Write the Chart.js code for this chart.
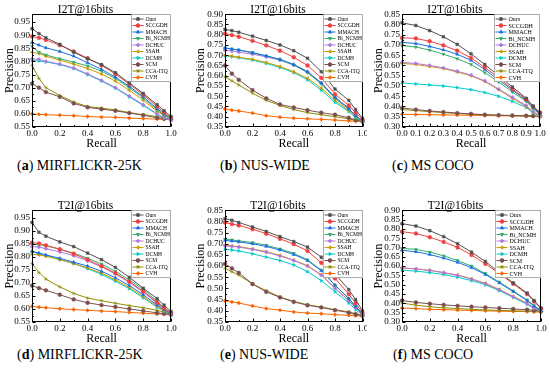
<!DOCTYPE html>
<html>
<head>
<meta charset="utf-8">
<script src="https://cdn.jsdelivr.net/npm/chart.js@4.4.0/dist/chart.umd.min.js"></script>
<style>
  body { margin: 0; background: #fff; width: 550px; height: 375px; position: relative; overflow: hidden; }
  .panel { position: absolute; }
  .panel canvas { display: block; }
  .cap { position: absolute; font-family: "Liberation Serif", "Times New Roman", serif; font-size: 14px; line-height: 16px; white-space: nowrap; color: #000; }
</style>
</head>
<body>
<div class="panel" id="wrap-a"><canvas id="chart-a"></canvas></div>
<div class="panel" id="wrap-b"><canvas id="chart-b"></canvas></div>
<div class="panel" id="wrap-c"><canvas id="chart-c"></canvas></div>
<div class="panel" id="wrap-d"><canvas id="chart-d"></canvas></div>
<div class="panel" id="wrap-e"><canvas id="chart-e"></canvas></div>
<div class="panel" id="wrap-f"><canvas id="chart-f"></canvas></div>

<div class="cap" style="left:17px;top:158px">(<b>a</b>) MIRFLICKR-25K</div>
<div class="cap" style="left:220px;top:158px">(<b>b</b>) NUS-WIDE</div>
<div class="cap" style="left:392px;top:158px">(<b>c</b>) MS COCO</div>
<div class="cap" style="left:17px;top:347px">(<b>d</b>) MIRFLICKR-25K</div>
<div class="cap" style="left:220px;top:347px">(<b>e</b>) NUS-WIDE</div>
<div class="cap" style="left:393px;top:347px">(<b>f</b>) MS COCO</div>

<script>
// ===== DATA =====
const methods = ['Ours', 'SCCGDH', 'MMACH', 'Bi_NCMH', 'DCHUC', 'SSAH', 'DCMH', 'SCM', 'CCA-ITQ', 'CVH'];

// recall sample points
const recallFine = [0, 0.05, 0.1, 0.2, 0.3, 0.4, 0.5, 0.6, 0.7, 0.8, 0.9, 0.95, 1.0];
const recallCoco = [0, 0.1, 0.2, 0.3, 0.4, 0.5, 0.6, 0.7, 0.8, 0.9, 0.95, 1.0];

// tick labels
const xTicksFifth = [0, 0.2, 0.4, 0.6, 0.8, 1.0];
const xTicksTenth = [0, 0.1, 0.2, 0.3, 0.4, 0.5, 0.6, 0.7, 0.8, 0.9, 1.0];
const yTicksMir = [0.55, 0.60, 0.65, 0.70, 0.75, 0.80, 0.85, 0.90, 0.95];
const yTicksNusI2T = [0.35, 0.40, 0.45, 0.50, 0.55, 0.60, 0.65, 0.70, 0.75, 0.80, 0.85, 0.90];
const yTicksNusT2I = [0.35, 0.40, 0.45, 0.50, 0.55, 0.60, 0.65, 0.70, 0.75, 0.80, 0.85];
const yTicksCocoI2T = [0.30, 0.35, 0.40, 0.45, 0.50, 0.55, 0.60, 0.65, 0.70, 0.75, 0.80, 0.85];
const yTicksCocoT2I = [0.30, 0.35, 0.40, 0.45, 0.50, 0.55, 0.60, 0.65, 0.70, 0.75, 0.80, 0.85, 0.90];

// (a) I2T@16bits, MIRFLICKR-25K
const a_Ours    = [0.925, 0.906, 0.890, 0.865, 0.835, 0.810, 0.788, 0.757, 0.718, 0.678, 0.635, 0.612, 0.590];
const a_SCCGDH  = [0.895, 0.890, 0.882, 0.862, 0.838, 0.812, 0.785, 0.752, 0.713, 0.673, 0.628, 0.605, 0.585];
const a_MMACH   = [0.872, 0.862, 0.852, 0.838, 0.820, 0.795, 0.770, 0.740, 0.705, 0.665, 0.620, 0.600, 0.582];
const a_BiNCMH  = [0.858, 0.835, 0.825, 0.810, 0.797, 0.783, 0.763, 0.735, 0.700, 0.660, 0.615, 0.595, 0.580];
const a_DCHUC   = [0.810, 0.808, 0.800, 0.790, 0.775, 0.752, 0.728, 0.700, 0.668, 0.635, 0.600, 0.585, 0.575];
const a_SSAH    = [0.835, 0.830, 0.820, 0.805, 0.790, 0.773, 0.752, 0.725, 0.690, 0.652, 0.610, 0.593, 0.580];
const a_DCMH    = [0.803, 0.802, 0.798, 0.788, 0.773, 0.750, 0.725, 0.698, 0.665, 0.632, 0.598, 0.585, 0.575];
const a_SCM     = [0.715, 0.700, 0.683, 0.665, 0.640, 0.625, 0.618, 0.612, 0.603, 0.595, 0.585, 0.582, 0.578];
const a_CCAITQ  = [0.785, 0.735, 0.700, 0.670, 0.645, 0.628, 0.622, 0.615, 0.605, 0.597, 0.590, 0.585, 0.578];
const a_CVH     = [0.600, 0.598, 0.597, 0.595, 0.593, 0.590, 0.588, 0.587, 0.584, 0.582, 0.580, 0.579, 0.578];

// (b) I2T@16bits, NUS-WIDE
const b_Ours    = [0.826, 0.820, 0.812, 0.793, 0.772, 0.750, 0.722, 0.685, 0.620, 0.535, 0.480, 0.435, 0.392];
const b_SCCGDH  = [0.805, 0.798, 0.790, 0.770, 0.748, 0.722, 0.690, 0.650, 0.590, 0.510, 0.455, 0.420, 0.385];
const b_MMACH   = [0.735, 0.730, 0.725, 0.712, 0.697, 0.680, 0.655, 0.620, 0.565, 0.495, 0.440, 0.405, 0.378];
const b_BiNCMH  = [0.735, 0.730, 0.726, 0.713, 0.696, 0.678, 0.652, 0.615, 0.560, 0.490, 0.437, 0.403, 0.378];
const b_DCHUC   = [0.725, 0.720, 0.715, 0.705, 0.692, 0.676, 0.652, 0.618, 0.565, 0.495, 0.440, 0.405, 0.378];
const b_SSAH    = [0.700, 0.696, 0.690, 0.680, 0.665, 0.645, 0.620, 0.588, 0.540, 0.480, 0.430, 0.400, 0.375];
const b_DCMH    = [0.697, 0.693, 0.688, 0.676, 0.660, 0.640, 0.615, 0.580, 0.530, 0.470, 0.425, 0.395, 0.375];
const b_SCM     = [0.650, 0.610, 0.580, 0.530, 0.490, 0.460, 0.445, 0.432, 0.420, 0.410, 0.395, 0.385, 0.378];
const b_CCAITQ  = [0.595, 0.575, 0.555, 0.515, 0.480, 0.455, 0.435, 0.420, 0.410, 0.400, 0.390, 0.382, 0.375];
const b_CVH     = [0.438, 0.432, 0.428, 0.418, 0.405, 0.398, 0.393, 0.390, 0.387, 0.384, 0.380, 0.378, 0.376];

// (c) I2T@16bits, MS COCO
const c_Ours    = [0.808, 0.795, 0.770, 0.740, 0.703, 0.657, 0.605, 0.550, 0.495, 0.440, 0.402, 0.370];
const c_SCCGDH  = [0.735, 0.732, 0.718, 0.698, 0.672, 0.637, 0.590, 0.540, 0.485, 0.435, 0.400, 0.370];
const c_MMACH   = [0.713, 0.707, 0.693, 0.676, 0.655, 0.625, 0.580, 0.530, 0.480, 0.430, 0.395, 0.365];
const c_BiNCMH  = [0.697, 0.690, 0.675, 0.655, 0.633, 0.605, 0.565, 0.520, 0.470, 0.425, 0.390, 0.360];
const c_DCHUC   = [0.615, 0.610, 0.600, 0.588, 0.572, 0.553, 0.525, 0.485, 0.445, 0.405, 0.375, 0.355];
const c_SSAH    = [0.610, 0.605, 0.595, 0.585, 0.568, 0.550, 0.522, 0.482, 0.440, 0.400, 0.372, 0.353];
const c_DCMH    = [0.515, 0.510, 0.505, 0.500, 0.492, 0.482, 0.468, 0.450, 0.425, 0.395, 0.370, 0.352];
const c_SCM     = [0.393, 0.385, 0.378, 0.373, 0.368, 0.364, 0.360, 0.358, 0.356, 0.355, 0.354, 0.352];
const c_CCAITQ  = [0.385, 0.380, 0.375, 0.370, 0.366, 0.362, 0.359, 0.357, 0.355, 0.354, 0.353, 0.351];
const c_CVH     = [0.362, 0.361, 0.360, 0.359, 0.358, 0.357, 0.356, 0.355, 0.354, 0.353, 0.352, 0.351];

// (d) T2I@16bits, MIRFLICKR-25K
const d_Ours    = [0.933, 0.895, 0.880, 0.858, 0.840, 0.815, 0.790, 0.760, 0.722, 0.680, 0.640, 0.615, 0.590];
const d_SCCGDH  = [0.855, 0.852, 0.845, 0.830, 0.812, 0.790, 0.765, 0.738, 0.705, 0.668, 0.625, 0.603, 0.585];
const d_MMACH   = [0.822, 0.815, 0.808, 0.795, 0.780, 0.765, 0.745, 0.720, 0.690, 0.655, 0.615, 0.597, 0.580];
const d_BiNCMH  = [0.850, 0.847, 0.843, 0.830, 0.815, 0.795, 0.773, 0.745, 0.712, 0.675, 0.630, 0.605, 0.585];
const d_DCHUC   = [0.840, 0.838, 0.832, 0.820, 0.805, 0.785, 0.762, 0.735, 0.702, 0.665, 0.622, 0.600, 0.582];
const d_SSAH    = [0.810, 0.808, 0.803, 0.790, 0.775, 0.758, 0.738, 0.712, 0.683, 0.648, 0.610, 0.594, 0.580];
const d_DCMH    = [0.820, 0.812, 0.805, 0.790, 0.775, 0.755, 0.733, 0.707, 0.678, 0.643, 0.607, 0.592, 0.578];
const d_SCM     = [0.690, 0.680, 0.672, 0.655, 0.637, 0.624, 0.615, 0.608, 0.600, 0.593, 0.585, 0.582, 0.578];
const d_CCAITQ  = [0.775, 0.740, 0.715, 0.685, 0.660, 0.642, 0.632, 0.622, 0.613, 0.605, 0.595, 0.588, 0.580];
const d_CVH     = [0.610, 0.607, 0.605, 0.601, 0.598, 0.595, 0.592, 0.590, 0.587, 0.584, 0.581, 0.580, 0.578];

// (e) T2I@16bits, NUS-WIDE
const e_Ours    = [0.812, 0.805, 0.795, 0.775, 0.755, 0.732, 0.710, 0.685, 0.640, 0.565, 0.495, 0.450, 0.400];
const e_SCCGDH  = [0.795, 0.788, 0.782, 0.765, 0.745, 0.722, 0.698, 0.668, 0.615, 0.545, 0.475, 0.435, 0.390];
const e_MMACH   = [0.715, 0.712, 0.708, 0.700, 0.688, 0.672, 0.652, 0.625, 0.580, 0.515, 0.455, 0.420, 0.385];
const e_BiNCMH  = [0.720, 0.717, 0.713, 0.705, 0.693, 0.677, 0.657, 0.628, 0.582, 0.515, 0.455, 0.420, 0.385];
const e_DCHUC   = [0.690, 0.688, 0.685, 0.675, 0.662, 0.645, 0.625, 0.600, 0.560, 0.500, 0.445, 0.413, 0.383];
const e_SSAH    = [0.695, 0.690, 0.687, 0.677, 0.665, 0.648, 0.627, 0.602, 0.562, 0.502, 0.447, 0.415, 0.383];
const e_DCMH    = [0.675, 0.672, 0.668, 0.655, 0.640, 0.625, 0.605, 0.575, 0.535, 0.485, 0.435, 0.405, 0.380];
const e_SCM     = [0.610, 0.590, 0.570, 0.520, 0.485, 0.460, 0.440, 0.425, 0.415, 0.403, 0.392, 0.385, 0.378];
const e_CCAITQ  = [0.590, 0.575, 0.560, 0.520, 0.490, 0.462, 0.442, 0.427, 0.417, 0.405, 0.395, 0.387, 0.378];
const e_CVH     = [0.445, 0.440, 0.435, 0.422, 0.410, 0.403, 0.395, 0.390, 0.387, 0.383, 0.380, 0.378, 0.376];

// (f) T2I@16bits, MS COCO
const f_Ours    = [0.828, 0.815, 0.790, 0.758, 0.720, 0.675, 0.625, 0.565, 0.510, 0.455, 0.415, 0.375];
const f_SCCGDH  = [0.785, 0.775, 0.755, 0.730, 0.700, 0.660, 0.612, 0.560, 0.505, 0.450, 0.410, 0.372];
const f_MMACH   = [0.685, 0.677, 0.662, 0.643, 0.620, 0.592, 0.555, 0.510, 0.463, 0.415, 0.385, 0.360];
const f_BiNCMH  = [0.695, 0.690, 0.675, 0.655, 0.630, 0.600, 0.560, 0.515, 0.467, 0.418, 0.388, 0.362];
const f_DCHUC   = [0.590, 0.585, 0.577, 0.565, 0.550, 0.530, 0.505, 0.472, 0.435, 0.398, 0.375, 0.358];
const f_SSAH    = [0.590, 0.585, 0.577, 0.565, 0.552, 0.532, 0.508, 0.475, 0.438, 0.400, 0.377, 0.358];
const f_DCMH    = [0.578, 0.573, 0.565, 0.555, 0.540, 0.522, 0.500, 0.468, 0.432, 0.395, 0.373, 0.356];
const f_SCM     = [0.415, 0.405, 0.398, 0.392, 0.387, 0.382, 0.378, 0.374, 0.370, 0.366, 0.363, 0.358];
const f_CCAITQ  = [0.402, 0.390, 0.382, 0.376, 0.372, 0.368, 0.365, 0.362, 0.360, 0.358, 0.356, 0.354];
const f_CVH     = [0.375, 0.372, 0.368, 0.366, 0.364, 0.362, 0.360, 0.358, 0.357, 0.356, 0.355, 0.354];

// ===== STYLE =====
const colors = ['#515151', '#F14040', '#1A6FDF', '#37AD6B', '#B177DE', '#CC9900', '#00CBCC', '#7D4E4E', '#8E8E00', '#FB6501'];
const markers = ['rect', 'circle', 'triangle', 'triangle', 'rectRot', 'triangle', 'triangle', 'circle', 'star', 'rectRot'];
const markerRot = [0, 0, 0, 180, 0, 270, 90, 0, 0, 0];
const SERIF = '"Liberation Serif", "Times New Roman", serif';

Chart.defaults.font.family = SERIF;
Chart.defaults.color = '#000';

// frame + inward ticks (Origin style)
const framePlugin = {
  id: 'frame',
  afterDatasetsDraw(chart) {
    const { ctx, chartArea: a, scales } = chart;
    const l = Math.round(a.left) + 0.5, r = Math.round(a.right) - 0.5;
    const t = Math.round(a.top) + 0.5, b = Math.round(a.bottom) - 0.5;
    ctx.save();
    ctx.strokeStyle = '#000';
    ctx.lineWidth = 1;
    ctx.beginPath();
    const yt = scales.y.ticks.map(tk => tk.value);
    yt.forEach((v, i) => {
      const py = Math.round(scales.y.getPixelForValue(v)) + 0.5;
      ctx.moveTo(l, py); ctx.lineTo(l + 3, py);
      if (i < yt.length - 1) {
        const my = Math.round(scales.y.getPixelForValue((v + yt[i + 1]) / 2)) + 0.5;
        ctx.moveTo(l, my); ctx.lineTo(l + 1.5, my);
      }
    });
    const xt = scales.x.ticks.map(tk => tk.value);
    xt.forEach((v, i) => {
      const px = Math.round(scales.x.getPixelForValue(v)) + 0.5;
      ctx.moveTo(px, b); ctx.lineTo(px, b - 3);
      if (i < xt.length - 1) {
        const mx = Math.round(scales.x.getPixelForValue((v + xt[i + 1]) / 2)) + 0.5;
        ctx.moveTo(mx, b); ctx.lineTo(mx, b - 1.5);
      }
    });
    ctx.stroke();
    ctx.strokeRect(l, t, r - l, b - t);
    ctx.restore();
  },
};

// legend box drawn inside the plot, top right
const insideLegend = {
  id: 'insideLegend',
  afterDatasetsDraw(chart, args, opts) {
    const { ctx, chartArea: a } = chart;
    const w = opts.width, h = 68, rowH = 6.5;
    const x0 = Math.round(a.right - w), y0 = Math.round(a.top);
    ctx.save();
    ctx.fillStyle = '#fff';
    ctx.fillRect(x0, y0, w, h);
    ctx.strokeStyle = '#777';
    ctx.lineWidth = 0.6;
    ctx.strokeRect(x0 + 0.5, y0 + 0.5, w - 1, h - 1);
    ctx.font = `${opts.fontSize}px ${SERIF}`;
    ctx.textBaseline = 'middle';
    chart.data.datasets.forEach((ds, i) => {
      const y = y0 + 5 + i * rowH;
      ctx.strokeStyle = ds.borderColor;
      ctx.lineWidth = 1;
      ctx.beginPath();
      ctx.moveTo(x0 + 1.5, y); ctx.lineTo(x0 + 12.5, y);
      ctx.stroke();
      ctx.fillStyle = ds.borderColor;
      Chart.helpers.drawPoint(ctx, { pointStyle: ds.pointStyle, rotation: ds.pointRotation, radius: 1.8, borderWidth: 0.5 }, x0 + 7, y);
      ctx.fillStyle = '#000';
      ctx.fillText(ds.label, x0 + 14.5, y + 0.5);
    });
    ctx.restore();
  },
};

function buildPanel(p) {
  const wrap = document.getElementById('wrap-' + p.id);
  wrap.style.left = p.left + 'px';
  wrap.style.top = p.top + 'px';
  const canvas = document.getElementById('chart-' + p.id);
  canvas.width = p.width;
  canvas.height = p.height;

  const datasets = methods.map((name, i) => ({
    label: name,
    data: p.recall.map((r, k) => ({ x: r, y: p.series[i][k] })),
    borderColor: colors[i],
    backgroundColor: colors[i],
    borderWidth: 1,
    pointStyle: markers[i],
    pointRotation: markerRot[i],
    pointRadius: 1.9,
    pointBorderWidth: 0.5,
    tension: 0,
    clip: false,
  }));

  new Chart(canvas, {
    type: 'line',
    data: { datasets },
    plugins: [framePlugin, insideLegend],
    options: {
      responsive: false,
      animation: false,
      devicePixelRatio: 1,
      layout: { padding: { left: 0, right: p.padRight, top: 0, bottom: 0 } },
      plugins: {
        legend: { display: false },
        tooltip: { enabled: false },
        title: {
          display: true,
          text: p.title,
          font: { size: 11.5, lineHeight: 0.8, weight: 'normal' },
          padding: { top: 3, bottom: 0 },
          color: '#000',
        },
        insideLegend: { width: p.legendW, fontSize: p.legendFont },
      },
      scales: {
        x: {
          type: 'linear',
          min: 0,
          max: 1,
          grid: { display: false, drawTicks: false },
          border: { display: false },
          ticks: { font: { size: 9 }, padding: 1, autoSkip: false, maxRotation: 0, minRotation: 0, callback: v => v.toFixed(1) },
          afterBuildTicks: s => { s.ticks = p.xTicks.map(v => ({ value: v })); },
          afterFit: s => { s.height = 23; s.paddingLeft = 0; s.paddingRight = 0; },
          title: { display: true, text: 'Recall', font: { size: 12, lineHeight: 1 }, padding: { top: 0, bottom: 0 } },
        },
        y: {
          type: 'linear',
          min: p.yMin,
          max: p.yMax,
          grid: { display: false, drawTicks: false },
          border: { display: false },
          ticks: { font: { size: 9 }, padding: 2, autoSkip: false, callback: v => v.toFixed(2) },
          afterBuildTicks: s => { s.ticks = p.yTicks.map(v => ({ value: v })); },
          afterFit: s => { s.width = 32; s.paddingTop = 0; s.paddingBottom = 0; },
          title: { display: true, text: 'Precision', font: { size: 12, lineHeight: 1 }, padding: { top: p.yTitlePad, bottom: 0 } },
        },
      },
    },
  });
}

// ===== BOOT =====
const panels = [
  { id: 'a', title: 'I2T@16bits', recall: recallFine, xTicks: xTicksFifth, yTicks: yTicksMir, yMin: 0.55, yMax: 0.98,
    series: [a_Ours, a_SCCGDH, a_MMACH, a_BiNCMH, a_DCHUC, a_SSAH, a_DCMH, a_SCM, a_CCAITQ, a_CVH],
    left: 0, top: 2, width: 180, height: 148, padRight: 9, yTitlePad: 4, legendW: 40, legendFont: 5.5 },
  { id: 'b', title: 'I2T@16bits', recall: recallFine, xTicks: xTicksFifth, yTicks: yTicksNusI2T, yMin: 0.35, yMax: 0.90,
    series: [b_Ours, b_SCCGDH, b_MMACH, b_BiNCMH, b_DCHUC, b_SSAH, b_DCMH, b_SCM, b_CCAITQ, b_CVH],
    left: 193, top: 2, width: 174, height: 148, padRight: 4, yTitlePad: 2, legendW: 40, legendFont: 5.5 },
  { id: 'c', title: 'I2T@16bits', recall: recallCoco, xTicks: xTicksTenth, yTicks: yTicksCocoI2T, yMin: 0.30, yMax: 0.85,
    series: [c_Ours, c_SCCGDH, c_MMACH, c_BiNCMH, c_DCHUC, c_SSAH, c_DCMH, c_SCM, c_CCAITQ, c_CVH],
    left: 370, top: 2, width: 180, height: 148, padRight: 10, yTitlePad: 3, legendW: 46, legendFont: 6 },
  { id: 'd', title: 'T2I@16bits', recall: recallFine, xTicks: xTicksFifth, yTicks: yTicksMir, yMin: 0.55, yMax: 0.98,
    series: [d_Ours, d_SCCGDH, d_MMACH, d_BiNCMH, d_DCHUC, d_SSAH, d_DCMH, d_SCM, d_CCAITQ, d_CVH],
    left: 0, top: 198, width: 180, height: 147, padRight: 9, yTitlePad: 4, legendW: 40, legendFont: 5.5 },
  { id: 'e', title: 'T2I@16bits', recall: recallFine, xTicks: xTicksFifth, yTicks: yTicksNusT2I, yMin: 0.35, yMax: 0.85,
    series: [e_Ours, e_SCCGDH, e_MMACH, e_BiNCMH, e_DCHUC, e_SSAH, e_DCMH, e_SCM, e_CCAITQ, e_CVH],
    left: 193, top: 198, width: 174, height: 147, padRight: 4, yTitlePad: 2, legendW: 40, legendFont: 5.5 },
  { id: 'f', title: 'T2I@16bits', recall: recallCoco, xTicks: xTicksFifth, yTicks: yTicksCocoT2I, yMin: 0.30, yMax: 0.90,
    series: [f_Ours, f_SCCGDH, f_MMACH, f_BiNCMH, f_DCHUC, f_SSAH, f_DCMH, f_SCM, f_CCAITQ, f_CVH],
    left: 370, top: 198, width: 180, height: 147, padRight: 9, yTitlePad: 3, legendW: 46, legendFont: 6 },
];

panels.forEach(buildPanel);
</script>
</body>
</html>
